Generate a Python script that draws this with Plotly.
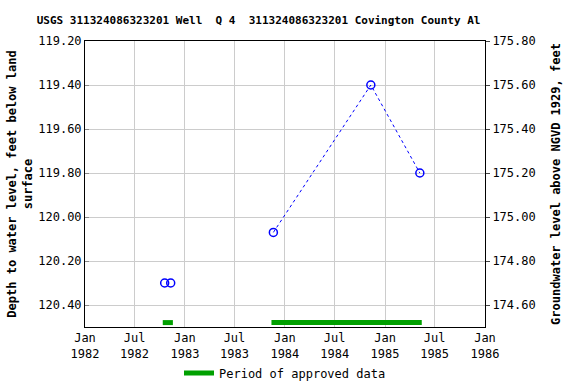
import plotly.graph_objects as go

marker_dates = ["1982-10-19", "1982-11-10", "1983-11-20", "1984-11-10", "1985-05-08"]
marker_depth = [120.30, 120.30, 120.07, 119.40, 119.80]
datum = 295.0

approved_periods = [("1982-10-12", "1982-11-18"), ("1983-11-13", "1985-05-15")]
approved_level = 120.48

tick_vals = ["1982-01-01", "1982-07-01", "1983-01-01", "1983-07-01", "1984-01-01",
             "1984-07-01", "1985-01-01", "1985-07-01", "1986-01-01"]
tick_text = ["Jan<br>1982", "Jul<br>1982", "Jan<br>1983", "Jul<br>1983", "Jan<br>1984",
             "Jul<br>1984", "Jan<br>1985", "Jul<br>1985", "Jan<br>1986"]
y_ticks = [119.2, 119.4, 119.6, 119.8, 120.0, 120.2, 120.4]
y_range = [120.5, 119.2]

font = "DejaVu Sans Mono"
fig = go.Figure()

for i, (s, e) in enumerate(approved_periods):
    fig.add_trace(go.Scatter(x=[s, e], y=[approved_level, approved_level], mode="lines",
                             line=dict(color="#00a000", width=5),
                             name="Period of approved data", showlegend=(i == 0)))

line_x = marker_dates[2:]
line_y = marker_depth[2:]
fig.add_trace(go.Scatter(x=line_x, y=line_y, mode="lines",
                         line=dict(color="blue", width=1, dash="dot"),
                         showlegend=False))
fig.add_trace(go.Scatter(x=marker_dates, y=marker_depth, mode="markers",
                         marker=dict(symbol="circle-open", size=8, color="blue",
                                     line=dict(width=1.5, color="blue")),
                         showlegend=False))

fig.add_trace(go.Scatter(x=marker_dates, y=[datum - d for d in marker_depth], yaxis="y2",
                         mode="markers", marker=dict(opacity=0), showlegend=False,
                         hoverinfo="skip"))

fig.update_layout(
    width=576, height=384,
    margin=dict(l=85, r=91, t=41, b=57, autoexpand=False),
    paper_bgcolor="white", plot_bgcolor="white",
    font=dict(family=font, size=12, color="black"),
    title=dict(text="<b>USGS 311324086323201 Well  Q 4  311324086323201 Covington County Al</b>",
               x=0.449, xanchor="center", y=0.948, yanchor="middle",
               font=dict(size=11, family=font)),
    xaxis=dict(range=["1982-01-01", "1986-01-01"], tickvals=tick_vals, ticktext=tick_text,
               showgrid=True, gridcolor="#cccccc", gridwidth=1, automargin=False,
               showline=True, linecolor="black", linewidth=1, mirror=True,
               ticks="", tickfont=dict(size=12, family=font), zeroline=False),
    yaxis=dict(range=y_range, tickvals=y_ticks, tickformat=".2f", automargin=False,
               showgrid=True, gridcolor="#cccccc", gridwidth=1,
               showline=True, linecolor="black", linewidth=1, mirror=True,
               ticks="inside", ticklen=4, tickcolor="#888888",
               tickfont=dict(size=12, family=font), zeroline=False,
               title=dict(text="<b>Depth to water level, feet below land<br>surface</b>",
                          font=dict(size=12, family=font), standoff=3)),
    yaxis2=dict(range=[datum - y_range[0], datum - y_range[1]], automargin=False,
                tickvals=[datum - v for v in y_ticks], tickformat=".2f",
                overlaying="y", side="right", showgrid=False,
                ticks="outside", ticklen=4, zeroline=False,
                tickfont=dict(size=12, family=font),
                title=dict(text="<b>Groundwater level above NGVD 1929, feet</b>",
                           font=dict(size=12, family=font), standoff=16)),
    legend=dict(orientation="h", x=0.5, xanchor="center", y=-0.161, yanchor="middle",
                font=dict(size=12, family=font), bgcolor="rgba(0,0,0,0)"),
    showlegend=True,
)

fig.write_html("out.html", config={"displayModeBar": False})

with open("out.html", "r", encoding="utf-8") as f:
    html = f.read()
html = html.replace("<head>", "<head><style>html,body{margin:0;padding:0;overflow:hidden;}</style>", 1)
with open("out.html", "w", encoding="utf-8") as f:
    f.write(html)
